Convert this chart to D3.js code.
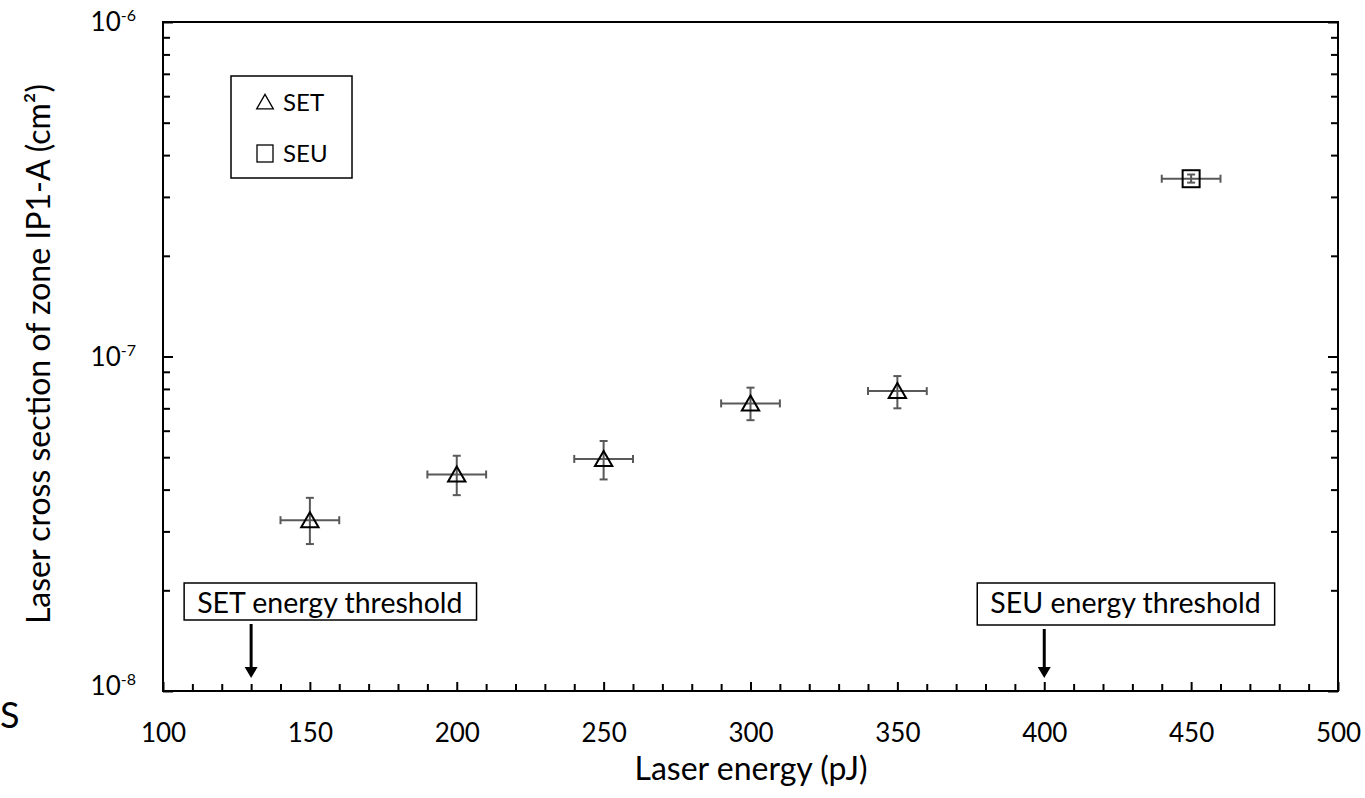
<!DOCTYPE html>
<meta charset="utf-8">
<style>
  body { margin: 0; background: #fff; }
  svg { font-family: Lato, "Open Sans", sans-serif; }
</style>
<svg width="1365" height="798"></svg>
<script src="https://cdn.jsdelivr.net/npm/d3@7"></script>
<script>

// SET points (triangles)
var setEnergy = [150, 200, 250, 300, 350];
var setCross = [3.24e-8, 4.44e-8, 4.94e-8, 7.24e-8, 7.88e-8];
var setCrossLow = [2.75e-8, 3.85e-8, 4.29e-8, 6.45e-8, 7.0e-8];
var setCrossHigh = [3.78e-8, 5.05e-8, 5.59e-8, 8.07e-8, 8.74e-8];

// SEU point (square)
var seuEnergy = [450];
var seuCross = [3.40e-7];
var seuCrossLow = [3.31e-7];
var seuCrossHigh = [3.50e-7];

var energyErr = 10; // +/- pJ on every point

var thresholdNames = ["SET energy threshold", "SEU energy threshold"];
var thresholdEnergy = [130, 400];

var xMajor = [100, 150, 200, 250, 300, 350, 400, 450, 500];
var yMajor = [1e-8, 1e-7, 1e-6];
var yExp = ["-8", "-7", "-6"];

var svg = d3.select("svg");

var mLeft = 163, mRight = 1338, mTop = 22, mBottom = 691;

var x = d3.scaleLinear().domain([100, 500]).range([mLeft, mRight]);
var y = d3.scaleLog().domain([1e-8, 1e-6]).range([mBottom, mTop]);

var xMinor = d3.range(110, 500, 10).filter(function(v) { return v % 50 != 0; });
var yMinor = [];
[1e-8, 1e-7].forEach(function(d) {
  for (var k = 2; k <= 9; k++) yMinor.push(d * k);
});

function styleAxis(g) {
  g.select(".domain").remove();
  g.selectAll("line").attr("stroke", "#000").attr("stroke-width", 2);
}

// x ticks (inside)
svg.append("g")
    .attr("transform", "translate(0," + mBottom + ")")
    .call(d3.axisBottom(x).tickValues(xMinor).tickSize(-7).tickFormat(""))
    .call(styleAxis);
svg.append("g")
    .attr("transform", "translate(0," + mBottom + ")")
    .call(d3.axisBottom(x).tickValues(xMajor).tickSize(-9).tickPadding(33).tickFormat(d3.format("d")))
    .call(styleAxis)
    .selectAll("text")
    .attr("font-family", "Lato, sans-serif")
    .attr("font-size", 26)
    .attr("fill", "#000");

// y ticks, left and right, pointing inward
svg.append("g")
    .attr("transform", "translate(" + mLeft + ",0)")
    .call(d3.axisLeft(y).tickValues(yMinor).tickSize(-7).tickFormat(""))
    .call(styleAxis);
svg.append("g")
    .attr("transform", "translate(" + mLeft + ",0)")
    .call(d3.axisLeft(y).tickValues(yMajor).tickSize(-10).tickFormat(""))
    .call(styleAxis);
svg.append("g")
    .attr("transform", "translate(" + mRight + ",0)")
    .call(d3.axisRight(y).tickValues(yMinor).tickSize(-7).tickFormat(""))
    .call(styleAxis);
svg.append("g")
    .attr("transform", "translate(" + mRight + ",0)")
    .call(d3.axisRight(y).tickValues(yMajor).tickSize(-10).tickFormat(""))
    .call(styleAxis);

// y labels 10^n (bottom one sits a little higher, as in the original)
var yl = svg.append("g").selectAll("text")
    .data(yMajor)
    .join("text")
    .attr("x", 136)
    .attr("y", function(d, i) { return y(d) + 9 - (i == 0 ? 5 : 0); })
    .attr("text-anchor", "end")
    .attr("font-size", 26)
    .attr("fill", "#000");
yl.append("tspan").text("10");
yl.append("tspan")
    .attr("dy", -10)
    .attr("font-size", 16)
    .text(function(d, i) { return yExp[i]; });

// frame
svg.append("rect")
    .attr("x", mLeft).attr("y", mTop)
    .attr("width", mRight - mLeft).attr("height", mBottom - mTop)
    .attr("fill", "none")
    .attr("stroke", "#000")
    .attr("stroke-width", 2);

// axis titles
svg.append("text")
    .attr("x", 751)
    .attr("y", 780)
    .attr("text-anchor", "middle")
    .attr("font-size", 32)
    .text("Laser energy (pJ)");

svg.append("text")
    .attr("transform", "translate(50,354) rotate(-90)")
    .attr("text-anchor", "middle")
    .attr("font-size", 32)
    .text("Laser cross section of zone IP1-A (cm²)");

// stray glyph at the left edge of the original figure
svg.append("text")
    .attr("x", 0).attr("y", 728)
    .attr("font-size", 36)
    .text("S");

// error bars
var errColor = "#595959";
function errorBars(xs, ys, lo, hi) {
  var g = svg.append("g").attr("stroke", errColor).attr("stroke-width", 2).attr("fill", "none");
  xs.forEach(function(e, i) {
    var cx = x(e), cy = y(ys[i]);
    var x0 = x(e - energyErr), x1 = x(e + energyErr);
    var y0 = y(lo[i]), y1 = y(hi[i]);
    g.append("line").attr("x1", x0).attr("x2", x1).attr("y1", cy).attr("y2", cy);
    g.append("line").attr("x1", x0).attr("x2", x0).attr("y1", cy - 4).attr("y2", cy + 4);
    g.append("line").attr("x1", x1).attr("x2", x1).attr("y1", cy - 4).attr("y2", cy + 4);
    g.append("line").attr("x1", cx).attr("x2", cx).attr("y1", y0).attr("y2", y1);
    g.append("line").attr("x1", cx - 4).attr("x2", cx + 4).attr("y1", y0).attr("y2", y0);
    g.append("line").attr("x1", cx - 4).attr("x2", cx + 4).attr("y1", y1).attr("y2", y1);
  });
}
errorBars(setEnergy, setCross, setCrossLow, setCrossHigh);
errorBars(seuEnergy, seuCross, seuCrossLow, seuCrossHigh);

// markers
var tri = d3.symbol().type(d3.symbolTriangle).size(130);
svg.append("g").selectAll("path")
    .data(setEnergy)
    .join("path")
    .attr("d", tri)
    .attr("transform", function(d, i) { return "translate(" + x(d) + "," + (y(setCross[i]) + 2) + ")"; })
    .attr("fill", "none")
    .attr("stroke", "#000")
    .attr("stroke-width", 2);

svg.append("g").selectAll("rect")
    .data(seuEnergy)
    .join("rect")
    .attr("x", function(d) { return x(d) - 8.5; })
    .attr("y", function(d, i) { return y(seuCross[i]) - 8.5; })
    .attr("width", 17).attr("height", 17)
    .attr("fill", "none")
    .attr("stroke", "#000")
    .attr("stroke-width", 2);

// legend
var legend = svg.append("g");
legend.append("rect")
    .attr("x", 231).attr("y", 76).attr("width", 121).attr("height", 102)
    .attr("fill", "#fff").attr("stroke", "#000").attr("stroke-width", 1.5);
legend.append("path")
    .attr("d", d3.symbol().type(d3.symbolTriangle).size(120))
    .attr("transform", "translate(265,104)")
    .attr("fill", "none").attr("stroke", "#000").attr("stroke-width", 1.3);
legend.append("rect")
    .attr("x", 257).attr("y", 145).attr("width", 16).attr("height", 17)
    .attr("fill", "none").attr("stroke", "#000").attr("stroke-width", 1.3);
legend.append("text").attr("x", 283).attr("y", 111).attr("font-size", 24).text("SET");
legend.append("text").attr("x", 283).attr("y", 162).attr("font-size", 24).text("SEU");

// threshold labels and arrows
var boxBottom = [620, 625];
thresholdNames.forEach(function(name, i) {
  var ax = x(thresholdEnergy[i]);
  var g = svg.append("g");
  var t = g.append("text")
      .attr("x", ax - 54)
      .attr("y", 613)
      .attr("font-size", 28.5)
      .text(name);
  var w = t.node().getComputedTextLength();
  g.insert("rect", "text")
      .attr("x", ax - 67).attr("y", 583)
      .attr("width", w + 27).attr("height", boxBottom[i] - 583)
      .attr("fill", "#fff").attr("stroke", "#000").attr("stroke-width", 1.5);
  g.append("line")
      .attr("x1", ax).attr("x2", ax)
      .attr("y1", boxBottom[i] + 4).attr("y2", 668)
      .attr("stroke", "#000").attr("stroke-width", 3);
  g.append("path")
      .attr("d", "M" + (ax - 6.5) + ",667L" + (ax + 6.5) + ",667L" + ax + ",678Z")
      .attr("fill", "#000");
});

</script>
